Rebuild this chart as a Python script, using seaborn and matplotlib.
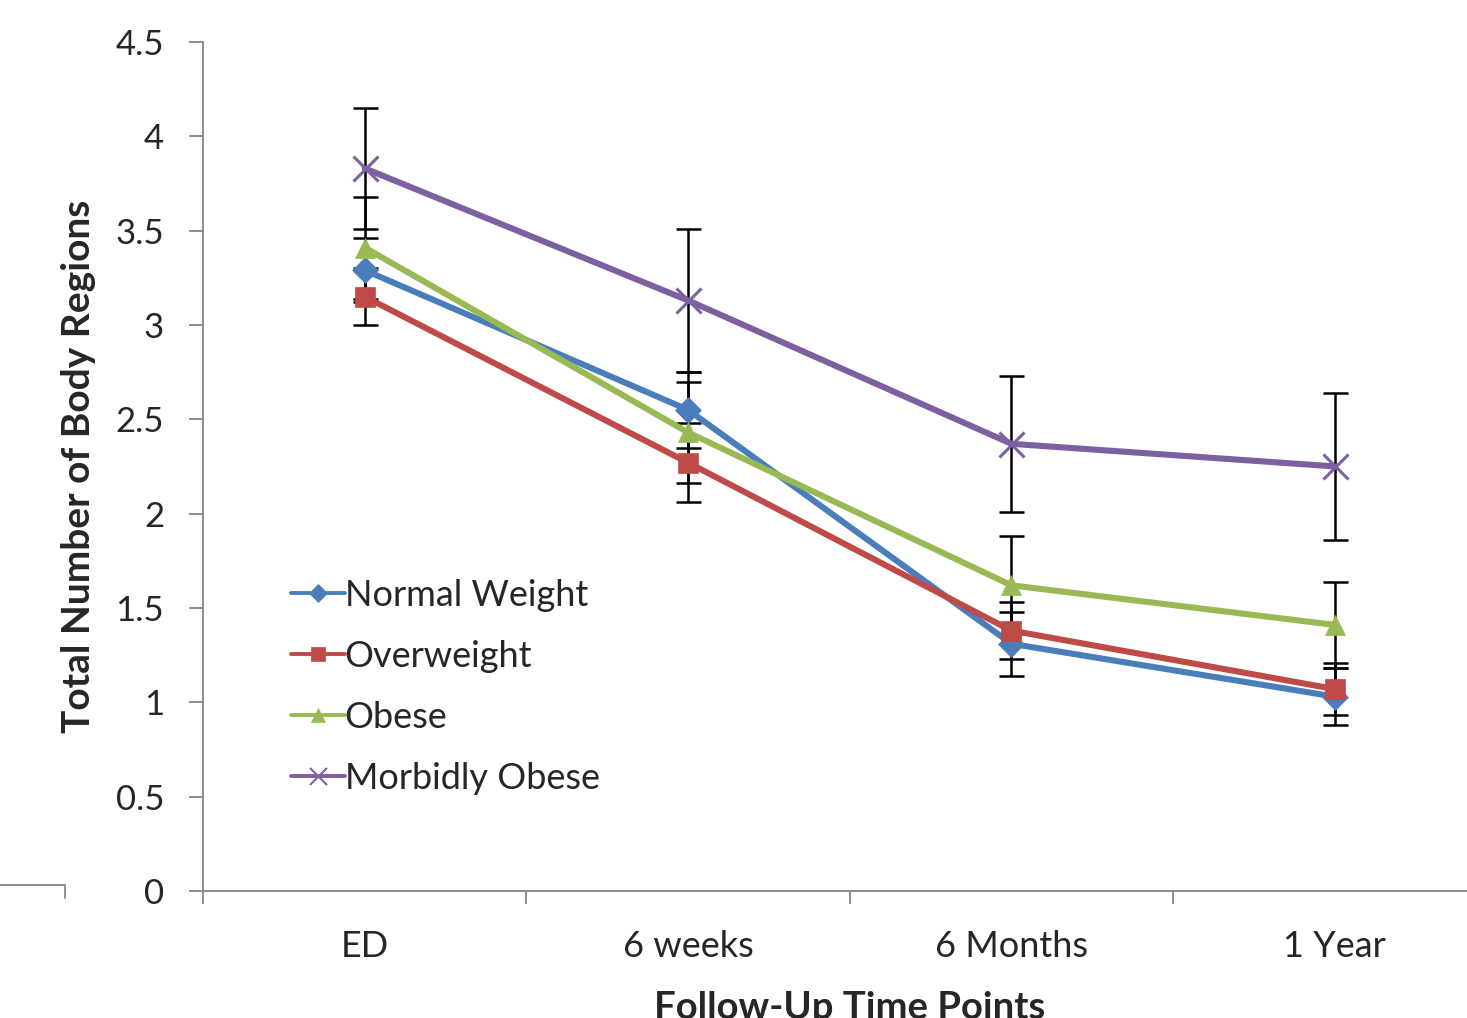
import numpy as np
import pandas as pd
import matplotlib
matplotlib.use("Agg")
import matplotlib.pyplot as plt
from matplotlib.lines import Line2D
from matplotlib.ticker import FixedLocator, FuncFormatter
import seaborn as sns

sns.set_theme(style="white")
plt.rcParams['font.family'] = ['Lato', 'DejaVu Sans']

# 데이터
time_points = ["ED", "6 weeks", "6 Months", "1 Year"]
groups = ["Normal Weight", "Overweight", "Obese", "Morbidly Obese"]
normal_weight = [3.29, 2.55, 1.31, 1.03]
overweight = [3.15, 2.27, 1.38, 1.07]
obese = [3.41, 2.43, 1.62, 1.41]
morbidly_obese = [3.83, 3.13, 2.37, 2.25]
normal_err = [0.17, 0.20, 0.17, 0.15]
overweight_err = [0.15, 0.21, 0.15, 0.14]
obese_err = [0.27, 0.27, 0.26, 0.23]
morbid_err = [0.32, 0.38, 0.36, 0.39]

values = [normal_weight, overweight, obese, morbidly_obese]
errors = [normal_err, overweight_err, obese_err, morbid_err]

df = pd.DataFrame({
    "pos": np.tile(np.arange(len(time_points)), len(groups)),
    "value": np.concatenate(values),
    "err": np.concatenate(errors),
    "group": np.repeat(groups, len(time_points)),
})

colors = ["#4A7EBB", "#BE4B48", "#98B954", "#7D60A0"]
markers = ["D", "s", "^", "x"]
msizes = [13, 15, 15, 18]

fig = plt.figure(figsize=(14.67, 10.18), dpi=100)
ax = fig.add_axes([0.1384, 0.1248, 0.8817, 0.834])

# 오차 막대
for g in groups:
    d = df[df["group"] == g]
    ax.errorbar(d["pos"], d["value"], yerr=d["err"], fmt="none", ecolor="black",
                elinewidth=1.8, capsize=9, capthick=1.8, zorder=2)

sns.lineplot(data=df, x="pos", y="value", hue="group", palette=colors,
             linewidth=4.4, legend=False, ax=ax, zorder=3)
for g, c, m, ms in zip(groups, colors, markers, msizes):
    d = df[df["group"] == g]
    ax.plot(d["pos"], d["value"], linestyle="none", marker=m, color=c,
            markersize=ms, markeredgewidth=2.2 if m == "x" else 0.5,
            markeredgecolor=c, zorder=4)

ax.set_xlim(-0.5, 3.5)
ax.set_ylim(0, 4.5)
ax.yaxis.set_major_locator(FixedLocator(np.arange(0, 4.51, 0.5)))
ax.yaxis.set_major_formatter(FuncFormatter(lambda v, p: f"{v:g}"))
ax.xaxis.set_major_locator(FixedLocator([-0.5, 0.5, 1.5, 2.5, 3.5]))
ax.xaxis.set_major_formatter(FuncFormatter(lambda v, p: ""))
ax.xaxis.set_minor_locator(FixedLocator(range(len(time_points))))
ax.set_xticklabels(time_points, minor=True)

for s in ["top", "right"]:
    ax.spines[s].set_visible(False)
for s in ["left", "bottom"]:
    ax.spines[s].set_color("#868686")
    ax.spines[s].set_linewidth(1.3)

ax.tick_params(axis="y", which="major", direction="out", length=10, width=1.3,
               color="#868686", labelsize=25, pad=18, left=True)
ax.tick_params(axis="x", which="major", direction="out", length=9, width=1.3,
               color="#868686", bottom=True)
ax.tick_params(axis="x", which="minor", length=0, labelsize=26, pad=28)

ax.set_xlabel("Follow-Up Time Points", fontsize=27.5, fontweight="bold", labelpad=20)
ax.set_ylabel("Total Number of Body Regions", fontsize=28, fontweight="bold", labelpad=14)

handles = [Line2D([0], [0], color=c, lw=2.8, marker=m, markersize=ms * 0.68,
                  markeredgewidth=1.5 if m == "x" else 0.5, markeredgecolor=c)
           for c, m, ms in zip(colors, markers, msizes)]
ax.legend(handles, ["Normal Weight", "Overweight", "Obese", "Morbidly Obese"],
          loc="upper left", bbox_to_anchor=(0.0565, 0.385), frameon=False,
          fontsize=26, handlelength=1.5, handletextpad=0.0, labelspacing=0.78,
          borderaxespad=0)

# 왼쪽 아래 잘린 선
fig.add_artist(Line2D([0, 65 / 1467, 65 / 1467], [1 - 885 / 1018, 1 - 885 / 1018, 1 - 898 / 1018],
                      color="#868686", lw=1.3, transform=fig.transFigure))

fig.savefig("out.png", dpi=100)
